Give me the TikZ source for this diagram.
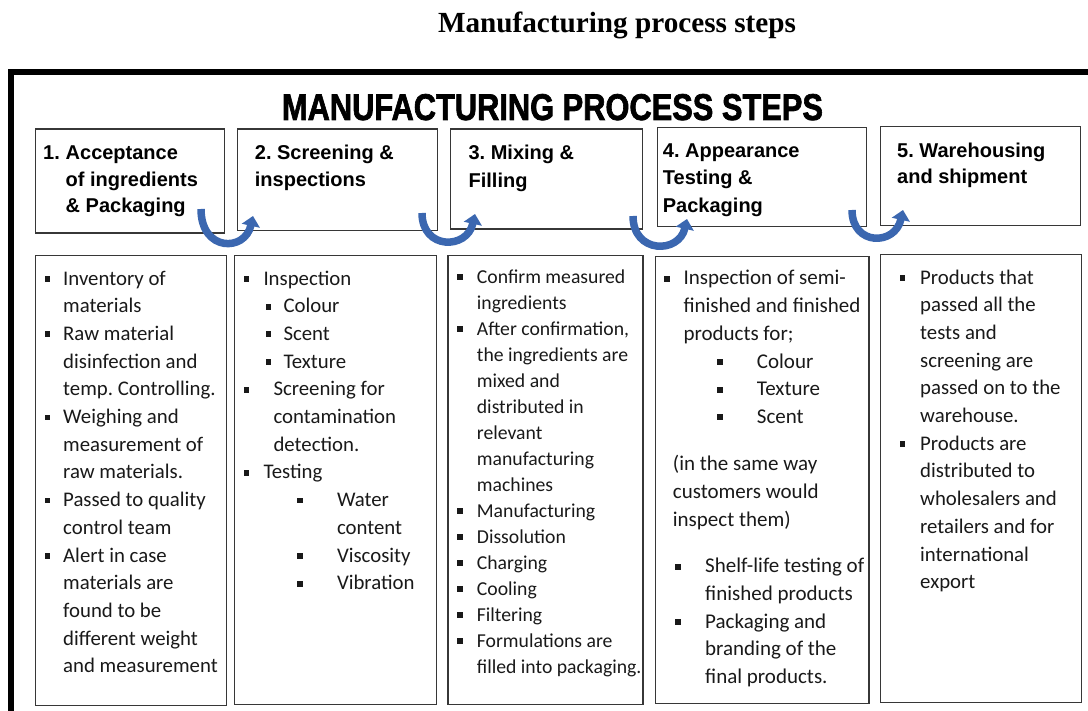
\documentclass[tikz,border=0pt]{standalone}
\usepackage{fontspec}
\setmainfont{Carlito}
\newfontfamily\headfont{Liberation Sans}
\newfontfamily\pagetitlefont{Liberation Serif}
\newfontfamily\bannerfont[FakeBold=2]{Liberation Sans}
\usetikzlibrary{arrows.meta}
\frenchspacing

\definecolor{flowblue}{RGB}{59,103,176}
\definecolor{boxline}{RGB}{55,55,55}
\definecolor{bodyink}{RGB}{25,25,25}

% square bullet and list lines: bullet offset, text offset, text
\newcommand{\sqbullet}{\rule[3.2pt]{5.8pt}{5.8pt}}
\newcommand{\bitem}[3]{\hspace*{#1}\makebox[0pt][l]{\sqbullet}\hspace*{\dimexpr#2-#1\relax}#3}
\newcommand{\tline}[2]{\hspace*{#1}#2}

\begin{document}
% multi-line nodes are placed by the baseline of their last line
\begin{tikzpicture}[x=1pt,y=-1pt,
  frame/.style={line width=5.5pt,black},
  stepbox/.style={draw=boxline,line width=1.3pt,fill=white,rectangle,inner sep=0pt,anchor=north west},
  listbox/.style={draw=boxline,line width=1.3pt,rectangle,inner sep=0pt,anchor=north west},
  head/.style={anchor=base west,inner sep=0pt,align=left,text=black},
  body/.style={anchor=base west,inner sep=0pt,align=left,text=bodyink},
  flow/.style={draw=flowblue,line width=7.5pt,-{Triangle[width=18pt,length=10pt]}}
]
\useasboundingbox (0,0) rectangle (1088,711);

% page heading
\node[anchor=base,inner sep=0pt,font=\pagetitlefont\bfseries\fontsize{29.2}{31}\selectfont] (pagetitle) at (617,33) {Manufacturing process steps};

% outer frame (top and left edges)
\draw[frame] (9,72) -- (1088,72);
\draw[frame] (11.2,69.3) -- (11.2,711);

% banner
\node[anchor=base,inner sep=0pt] (banner) at (552.5,120)
  {\resizebox{541pt}{26pt}{\bannerfont\bfseries MANUFACTURING PROCESS STEPS}};

% step header boxes
\node[stepbox,minimum width=189.3pt,minimum height=104pt] (h1) at (34.7,128.3) {};
\node[stepbox,minimum width=199.9pt,minimum height=101.7pt] (h2) at (236.6,128.3) {};
\node[stepbox,minimum width=192pt,minimum height=100pt] (h3) at (450,128.3) {};
\node[stepbox,minimum width=209.5pt,minimum height=99pt] (h4) at (656.5,126.7) {};
\node[stepbox,minimum width=200pt,minimum height=99.3pt] (h5) at (880,125.7) {};

\node[head,font=\headfont\bfseries\fontsize{20}{26.5}\selectfont] (h1t) at (43,213)
  {\makebox[22.5pt][l]{1.}Acceptance\\\hspace*{22.5pt}of ingredients\\\hspace*{22.5pt}\& Packaging};
\node[head,font=\headfont\bfseries\fontsize{20}{26.5}\selectfont] (h2t) at (254.7,186.5)
  {2. Screening \&\\inspections};
\node[head,font=\headfont\bfseries\fontsize{20}{28}\selectfont] (h3t) at (468.4,188)
  {3. Mixing \&\\Filling};
\node[head,font=\headfont\bfseries\fontsize{20}{27.5}\selectfont] (h4t) at (662.7,212.2)
  {4. Appearance\\Testing \&\\Packaging};
\node[head,font=\headfont\bfseries\fontsize{20}{26.5}\selectfont] (h5t) at (897,184)
  {5. Warehousing\\and shipment};

% detail boxes
\node[listbox,minimum width=190.7pt,minimum height=450pt] (b1) at (35,255) {};
\node[listbox,minimum width=201.7pt,minimum height=449pt] (b2) at (234,255) {};
\node[listbox,minimum width=195pt,minimum height=449pt] (b3) at (447.3,255) {};
\node[listbox,minimum width=213.3pt,minimum height=446.7pt] (b4) at (655,256) {};
\node[listbox,minimum width=200.7pt,minimum height=447.7pt] (b5) at (880,254) {};

% column 1
\node[body,font=\fontsize{20.8}{27.7}\selectfont] (c1) at (44.3,672.8) {%
\bitem{0pt}{18.7pt}{Inventory of}\\
\tline{18.7pt}{materials}\\
\bitem{0pt}{18.7pt}{Raw material}\\
\tline{18.7pt}{disinfection and}\\
\tline{18.7pt}{temp. Controlling.}\\
\bitem{0pt}{18.7pt}{Weighing and}\\
\tline{18.7pt}{measurement of}\\
\tline{18.7pt}{raw materials.}\\
\bitem{0pt}{18.7pt}{Passed to quality}\\
\tline{18.7pt}{control team}\\
\bitem{0pt}{18.7pt}{Alert in case}\\
\tline{18.7pt}{materials are}\\
\tline{18.7pt}{found to be}\\
\tline{18.7pt}{different weight}\\
\tline{18.7pt}{and measurement}};

% column 2
\node[body,font=\fontsize{20.8}{27.7}\selectfont] (c2) at (243.3,589.7) {%
\bitem{0pt}{20pt}{Inspection}\\
\bitem{22pt}{40pt}{Colour}\\
\bitem{22pt}{40pt}{Scent}\\
\bitem{22pt}{40pt}{Texture}\\
\bitem{0pt}{30pt}{Screening for}\\
\tline{30pt}{contamination}\\
\tline{30pt}{detection.}\\
\bitem{0pt}{20pt}{Testing}\\
\bitem{53.5pt}{93.5pt}{Water}\\
\tline{93.5pt}{content}\\
\bitem{53.5pt}{93.5pt}{Viscosity}\\
\bitem{53.5pt}{93.5pt}{Vibration}};

% column 3
\node[body,font=\fontsize{19.7}{26}\selectfont] (c3) at (456.7,673) {%
\bitem{0pt}{20pt}{Confirm measured}\\
\tline{20pt}{ingredients}\\
\bitem{0pt}{20pt}{After confirmation,}\\
\tline{20pt}{the ingredients are}\\
\tline{20pt}{mixed and}\\
\tline{20pt}{distributed in}\\
\tline{20pt}{relevant}\\
\tline{20pt}{manufacturing}\\
\tline{20pt}{machines}\\
\bitem{0pt}{20pt}{Manufacturing}\\
\bitem{0pt}{20pt}{Dissolution}\\
\bitem{0pt}{20pt}{Charging}\\
\bitem{0pt}{20pt}{Cooling}\\
\bitem{0pt}{20pt}{Filtering}\\
\bitem{0pt}{20pt}{Formulations are}\\
\tline{20pt}{filled into packaging.}};

% column 4
\node[body,font=\fontsize{21}{27.7}\selectfont] (c4a) at (664,423.5) {%
\bitem{0pt}{19.3pt}{Inspection of semi-}\\
\tline{19.3pt}{finished and finished}\\
\tline{19.3pt}{products for;}\\
\bitem{52.7pt}{92.7pt}{Colour}\\
\bitem{52.7pt}{92.7pt}{Texture}\\
\bitem{52.7pt}{92.7pt}{Scent}};
\node[body,font=\fontsize{21}{27.7}\selectfont] (c4b) at (672.7,526.1) {%
(in the same way\\
customers would\\
inspect them)};
\node[body,font=\fontsize{21}{27.7}\selectfont] (c4c) at (675,683.5) {%
\bitem{0pt}{30pt}{Shelf-life testing of}\\
\tline{30pt}{finished products}\\
\bitem{0pt}{30pt}{Packaging and}\\
\tline{30pt}{branding of the}\\
\tline{30pt}{final products.}};

% column 5
\node[body,font=\fontsize{20.8}{27.7}\selectfont] (c5) at (899.3,588.7) {%
\bitem{0pt}{20.7pt}{Products that}\\
\tline{20.7pt}{passed all the}\\
\tline{20.7pt}{tests and}\\
\tline{20.7pt}{screening are}\\
\tline{20.7pt}{passed on to the}\\
\tline{20.7pt}{warehouse.}\\
\bitem{0pt}{20.7pt}{Products are}\\
\tline{20.7pt}{distributed to}\\
\tline{20.7pt}{wholesalers and}\\
\tline{20.7pt}{retailers and for}\\
\tline{20.7pt}{international}\\
\tline{20.7pt}{export}};

% curved arrows between steps
\coordinate (a1s) at (201,209);  \coordinate (a1t) at (253,216);
\coordinate (a2s) at (422,213);  \coordinate (a2t) at (475,214);
\coordinate (a3s) at (633,216);  \coordinate (a3t) at (687,219);
\coordinate (a4s) at (852,210);  \coordinate (a4t) at (903,210);
\draw[flow] (a1s) .. controls (201,252) and (245,252) .. (a1t);
\draw[flow] (a2s) .. controls (422,250) and (467,250) .. (a2t);
\draw[flow] (a3s) .. controls (633,254) and (679,254) .. (a3t);
\draw[flow] (a4s) .. controls (852,246) and (895,246) .. (a4t);
\end{tikzpicture}
\end{document}
